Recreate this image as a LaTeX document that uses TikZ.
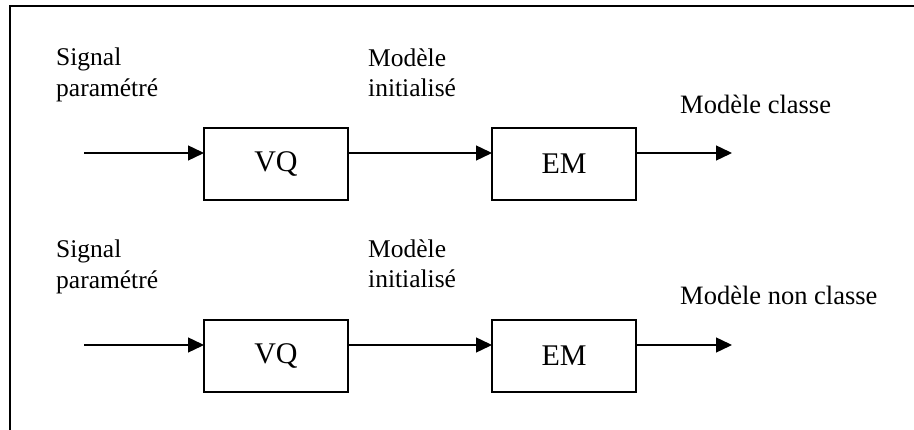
\documentclass[tikz,border=0pt]{standalone}
\usepackage{fontspec}
\setmainfont{Liberation Serif}
\usetikzlibrary{arrows.meta}

\tikzset{
  block/.style={draw, line width=1.5pt, minimum width=144pt, minimum height=72pt,
                inner sep=0pt, outer sep=0pt, font=\fontsize{30}{34}\selectfont},
  label/.style={anchor=base west, inner sep=0pt, font=\fontsize{25.5}{30}\selectfont},
  outlabel/.style={label, font=\fontsize{26.5}{30}\selectfont},
  flow/.style={line width=1.4pt, -{Triangle[length=16pt,width=15pt]}},
  frameline/.style={line width=2pt}
}

\begin{document}
\begin{tikzpicture}[x=1pt,y=-1pt]
  \useasboundingbox (0,0) rectangle (914,430);

  % surrounding frame (only top and left edges fall inside the page)
  \coordinate (fbl) at (10,431);
  \coordinate (ftl) at (10,6);
  \coordinate (ftr) at (915,6);
  \draw[frameline] (fbl) -- (ftl) -- (ftr);

  % ---- first chain ----
  \node[block] (vq1) at (276,164) {VQ};
  \node[block] (em1) at (564,164) {EM};
  \coordinate (in1) at (84,153);
  \coordinate (out1) at (732,153);

  \draw[flow] (in1) -- (in1 -| vq1.west);
  \draw[flow] (vq1.east |- in1) -- (em1.west |- in1);
  \draw[flow] (em1.east |- in1) -- (out1);

  \node[label] (s1a) at (56,66) {Signal};
  \node[label] (s1b) at (56,97) {paramétré};
  \node[label] (m1a) at (368,67) {Modèle};
  \node[label] (m1b) at (368,97) {initialisé};
  \node[outlabel] (o1) at (680,114) {Modèle classe};

  % ---- second chain ----
  \node[block] (vq2) at (276,356) {VQ};
  \node[block] (em2) at (564,356) {EM};
  \coordinate (in2) at (84,345);
  \coordinate (out2) at (732,345);

  \draw[flow] (in2) -- (in2 -| vq2.west);
  \draw[flow] (vq2.east |- in2) -- (em2.west |- in2);
  \draw[flow] (em2.east |- in2) -- (out2);

  \node[label] (s2a) at (56,258) {Signal};
  \node[label] (s2b) at (56,289) {paramétré};
  \node[label] (m2a) at (368,258) {Modèle};
  \node[label] (m2b) at (368,288) {initialisé};
  \node[outlabel] (o2) at (680,305) {Modèle non classe};
\end{tikzpicture}
\end{document}
